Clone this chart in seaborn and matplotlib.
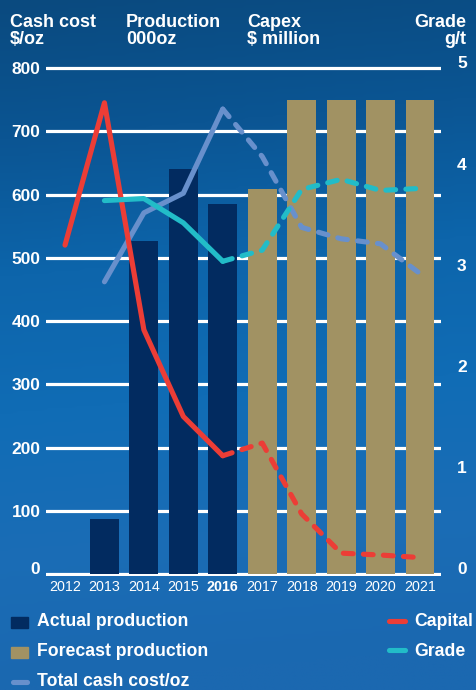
import numpy as np
import pandas as pd
import matplotlib
matplotlib.use("Agg")
import matplotlib.pyplot as plt
import seaborn as sns
from matplotlib.colors import LinearSegmentedColormap
from matplotlib.patches import Rectangle
from matplotlib.lines import Line2D
from matplotlib.transforms import ScaledTranslation

# ---------------- data ----------------
years = ["2012", "2013", "2014", "2015", "2016", "2017", "2018", "2019", "2020", "2021"]
production = [np.nan, 87, 527, 640, 585, 608, 750, 750, 750, 750]          # 000oz
production_type = ["Actual production"] * 5 + ["Forecast production"] * 5
capital = [520, 745, 386, 249, 187, 207, 95, 33, 30, 26]                   # $ million
cash_cost = [np.nan, 462, 571, 602, 735, 660, 548, 530, 522, 475]          # $/oz
grade = [np.nan, 3.69, 3.71, 3.47, 3.09, 3.20, 3.80, 3.90, 3.79, 3.81]     # g/t
last_actual = 4  # index of 2016
left_ticks = [0, 100, 200, 300, 400, 500, 600, 700, 800]
right_ticks = [0, 1, 2, 3, 4, 5]

# ---------------- style ----------------
sns.set_theme(style="white")
plt.rcParams["font.family"] = ["Liberation Sans", "DejaVu Sans"]

C_ACTUAL = "#022b60"
C_FORE = "#a19263"
C_RED = "#ec3d36"
C_CASH = "#6890cc"
C_GRADE = "#22bcc8"
WHITE = "white"

W, H = 476, 690
fig = plt.figure(figsize=(W / 100, H / 100), dpi=100)

# background gradient
bg = fig.add_axes([0, 0, 1, 1], zorder=-5)
cmap = LinearSegmentedColormap.from_list(
    "bg", ["#0a4a7f", "#0b5593", "#0d65ab", "#106cb5", "#1a6db6", "#1b68b0"])
grad = np.linspace(0, 1, 256).reshape(-1, 1)
xs = np.linspace(0, 1, 64).reshape(1, -1)
img = np.clip(grad + 0.06 * xs, 0, 1)
bg.imshow(img, aspect="auto", cmap=cmap, extent=[0, 1, 0, 1], origin="upper")
bg.set_axis_off()

# main axes geometry (pixels)
x_left_px, x_right_px = 46, 441
y0_px, y800_px = 574, 68
pad_units = 3
ppu = (y0_px - y800_px) / 800
bottom_px = y0_px + pad_units * ppu
top_px = y800_px - pad_units * ppu
ax = fig.add_axes([x_left_px / W, 1 - bottom_px / H,
                   (x_right_px - x_left_px) / W, (bottom_px - top_px) / H])
ax.set_facecolor("none")

df = pd.DataFrame({"year": years, "production": production, "type": production_type})
idx = np.arange(len(years))

# grid lines
for v in left_ticks:
    ax.axhline(v, color=WHITE, lw=2.3, zorder=0.5)

sns.barplot(data=df, x="year", y="production", hue="type", order=years,
            palette={"Actual production": C_ACTUAL, "Forecast production": C_FORE},
            dodge=False, width=0.73, legend=False, ax=ax, zorder=2,
            saturation=1, linewidth=0)

lw = 3.7
dash = (0, (1.9, 2.0))


def draw_series(axis, values, color, zo):
    vals = np.array(values, dtype=float)
    solid_idx = [i for i in range(0, last_actual + 1) if not np.isnan(vals[i])]
    dash_idx = [i for i in range(last_actual, len(vals)) if not np.isnan(vals[i])]
    sns.lineplot(x=idx[solid_idx], y=vals[solid_idx], color=color, lw=lw,
                 solid_capstyle="round", solid_joinstyle="round", ax=axis,
                 zorder=zo, errorbar=None)
    sns.lineplot(x=idx[dash_idx], y=vals[dash_idx], color=color, lw=lw,
                 linestyle=dash, dash_capstyle="round", dash_joinstyle="round",
                 ax=axis, zorder=zo, errorbar=None)


draw_series(ax, cash_cost, C_CASH, 3)
draw_series(ax, capital, C_RED, 4)

ax.set_xlim((x_left_px - 65) / 39.44, 9 + (x_right_px - 420) / 39.44)
ax.set_ylim(-pad_units, 800 + pad_units)
ax.set_yticks(left_ticks)
ax.set_yticklabels([str(t) for t in left_ticks], color=WHITE, fontsize=12.5,
                   fontweight="bold")
ax.tick_params(axis="y", length=0, pad=4)
ax.tick_params(axis="x", length=0, pad=3)
ax.set_xticks(idx)
ax.set_xticklabels(years, color=WHITE, fontsize=10.3)
for lab in ax.get_xticklabels():
    if lab.get_text() == "2016":
        lab.set_fontweight("bold")
for lab in ax.get_yticklabels():
    if lab.get_text() == "0":
        lab.set_transform(lab.get_transform() + ScaledTranslation(0, 0.06, fig.dpi_scale_trans))
ax.set_xlabel("")
ax.set_ylabel("")
for s in ax.spines.values():
    s.set_visible(False)

ax2 = ax.twinx()
ax2.set_facecolor("none")
draw_series(ax2, grade, C_GRADE, 3)
ax2.set_ylim(-pad_units / 160, (800 + pad_units) / 160)
ax2.set_yticks(right_ticks)
ax2.set_yticklabels([str(t) for t in right_ticks], color=WHITE, fontsize=12.5,
                    fontweight="bold")
ax2.tick_params(axis="y", length=0, pad=11.5)
for lab in ax2.get_yticklabels():
    lab.set_transform(lab.get_transform() + ScaledTranslation(0, 0.055, fig.dpi_scale_trans))
ax2.set_ylabel("")
for s in ax2.spines.values():
    s.set_visible(False)
ax2.grid(False)
ax.grid(False)

# headers
hdr = dict(color=WHITE, fontsize=13, fontweight="bold", va="top", linespacing=1.0)
fig.text(10 / W, 1 - 14 / H, "Cash cost\n$/oz", ha="left", **hdr)
fig.text(126 / W, 1 - 14 / H, "Production\n000oz", ha="left", **hdr)
fig.text(247 / W, 1 - 14 / H, "Capex\n$ million", ha="left", **hdr)
fig.text(466 / W, 1 - 14 / H, "Grade\ng/t", ha="right", multialignment="right", **hdr)


# legend (manual)
def fx(px):
    return px / W


def fy(py):
    return 1 - py / H


leg_txt = dict(color=WHITE, fontsize=12.7, fontweight="bold", va="center", ha="left")
fig.add_artist(Rectangle((fx(11), fy(628)), 17 / W, 11 / H, color=C_ACTUAL,
                         transform=fig.transFigure))
fig.text(fx(37), fy(622), "Actual production", **leg_txt)
fig.add_artist(Rectangle((fx(11), fy(658)), 17 / W, 11 / H, color=C_FORE,
                         transform=fig.transFigure))
fig.text(fx(37), fy(652), "Forecast production", **leg_txt)
fig.add_artist(Line2D([fx(13), fx(27)], [fy(682), fy(682)], color=C_CASH, lw=lw,
                      solid_capstyle="round", transform=fig.transFigure))
fig.text(fx(37), fy(682), "Total cash cost/oz", **leg_txt)
fig.add_artist(Line2D([fx(389), fx(405)], [fy(621), fy(621)], color=C_RED, lw=lw,
                      solid_capstyle="round", transform=fig.transFigure))
fig.text(fx(414), fy(622), "Capital", **leg_txt)
fig.add_artist(Line2D([fx(389), fx(405)], [fy(650), fy(650)], color=C_GRADE, lw=lw,
                      solid_capstyle="round", transform=fig.transFigure))
fig.text(fx(414), fy(651), "Grade", **leg_txt)

fig.savefig("out.png", dpi=100)
